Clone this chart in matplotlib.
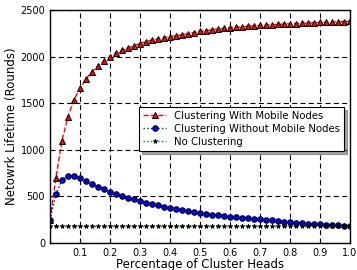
import matplotlib
matplotlib.use("Agg")
import matplotlib.pyplot as plt
import numpy as np

x_vals = [0.00, 0.02, 0.04, 0.06, 0.08, 0.10, 0.12, 0.14, 0.16, 0.18,
          0.20, 0.22, 0.24, 0.26, 0.28, 0.30, 0.32, 0.34, 0.36, 0.38,
          0.40, 0.42, 0.44, 0.46, 0.48, 0.50, 0.52, 0.54, 0.56, 0.58,
          0.60, 0.62, 0.64, 0.66, 0.68, 0.70, 0.72, 0.74, 0.76, 0.78,
          0.80, 0.82, 0.84, 0.86, 0.88, 0.90, 0.92, 0.94, 0.96, 0.98, 1.00]

with_mobile = [250, 700, 1095, 1355, 1535, 1660, 1756, 1838, 1899, 1953,
               2000, 2035, 2068, 2090, 2117, 2140, 2160, 2178, 2190, 2203,
               2214, 2224, 2235, 2246, 2258, 2270, 2279, 2287, 2295, 2303,
               2310, 2315, 2320, 2325, 2330, 2335, 2338, 2342, 2345, 2349,
               2352, 2355, 2358, 2360, 2363, 2366, 2368, 2371, 2373, 2376, 2378]

without_mobile = [250, 526, 676, 719, 719, 694, 665, 633, 604, 576,
                  551, 529, 508, 486, 469, 447, 433, 419, 405, 390,
                  376, 364, 352, 340, 329, 318, 310, 303, 296, 289,
                  282, 277, 272, 267, 262, 257, 250, 243, 236, 229,
                  222, 218, 213, 209, 204, 200, 196, 193, 189, 186, 183]

no_clustering = [185] * len(x_vals)

x_ticks = [0.1, 0.2, 0.3, 0.4, 0.5, 0.6, 0.7, 0.8, 0.9, 1.0]
y_ticks = [0, 500, 1000, 1500, 2000, 2500]

fig = plt.figure(figsize=(3.57, 2.70), dpi=100)
ax = fig.add_axes([0.14, 0.10, 0.84, 0.863])

ax.plot(x_vals, with_mobile, linestyle='--', color='red', linewidth=1,
        marker='^', markerfacecolor='red', markeredgecolor='black',
        markersize=4, markeredgewidth=0.7, label='Clustering With Mobile Nodes')
ax.plot(x_vals, without_mobile, linestyle=':', color='blue', linewidth=1,
        marker='o', markerfacecolor='blue', markeredgecolor='black',
        markersize=4, markeredgewidth=0.7, label='Clustering Without Mobile Nodes')
ax.plot(x_vals, no_clustering, linestyle=':', color='green', linewidth=1,
        marker='*', markerfacecolor='black', markeredgecolor='black',
        markersize=3.5, markeredgewidth=0.5, label='No Clustering')

ax.set_xlim(0, 1.0)
ax.set_ylim(0, 2500)
ax.set_xticks(x_ticks)
ax.set_xticklabels([f"{t:.1f}" for t in x_ticks])
ax.set_yticks(y_ticks)
ax.tick_params(direction='in', labelsize=7, length=3)
ax.grid(True, color='black', linestyle='--', linewidth=0.8, dashes=(4.5, 3))
for s in ax.spines.values():
    s.set_linewidth(1.0)

ax.set_xlabel('Percentage of Cluster Heads', fontsize=8.5, labelpad=0)
ax.set_ylabel('Netowrk Lifetime (Rounds)', fontsize=8.5, labelpad=2)

leg = ax.legend(loc='center right', fontsize=7.3, shadow=True, fancybox=False,
                borderpad=0.4, labelspacing=0.3, handlelength=2.2,
                bbox_to_anchor=(0.997, 0.49), framealpha=1, edgecolor='black')
leg.get_frame().set_linewidth(0.8)

fig.savefig('out.png', dpi=100)
